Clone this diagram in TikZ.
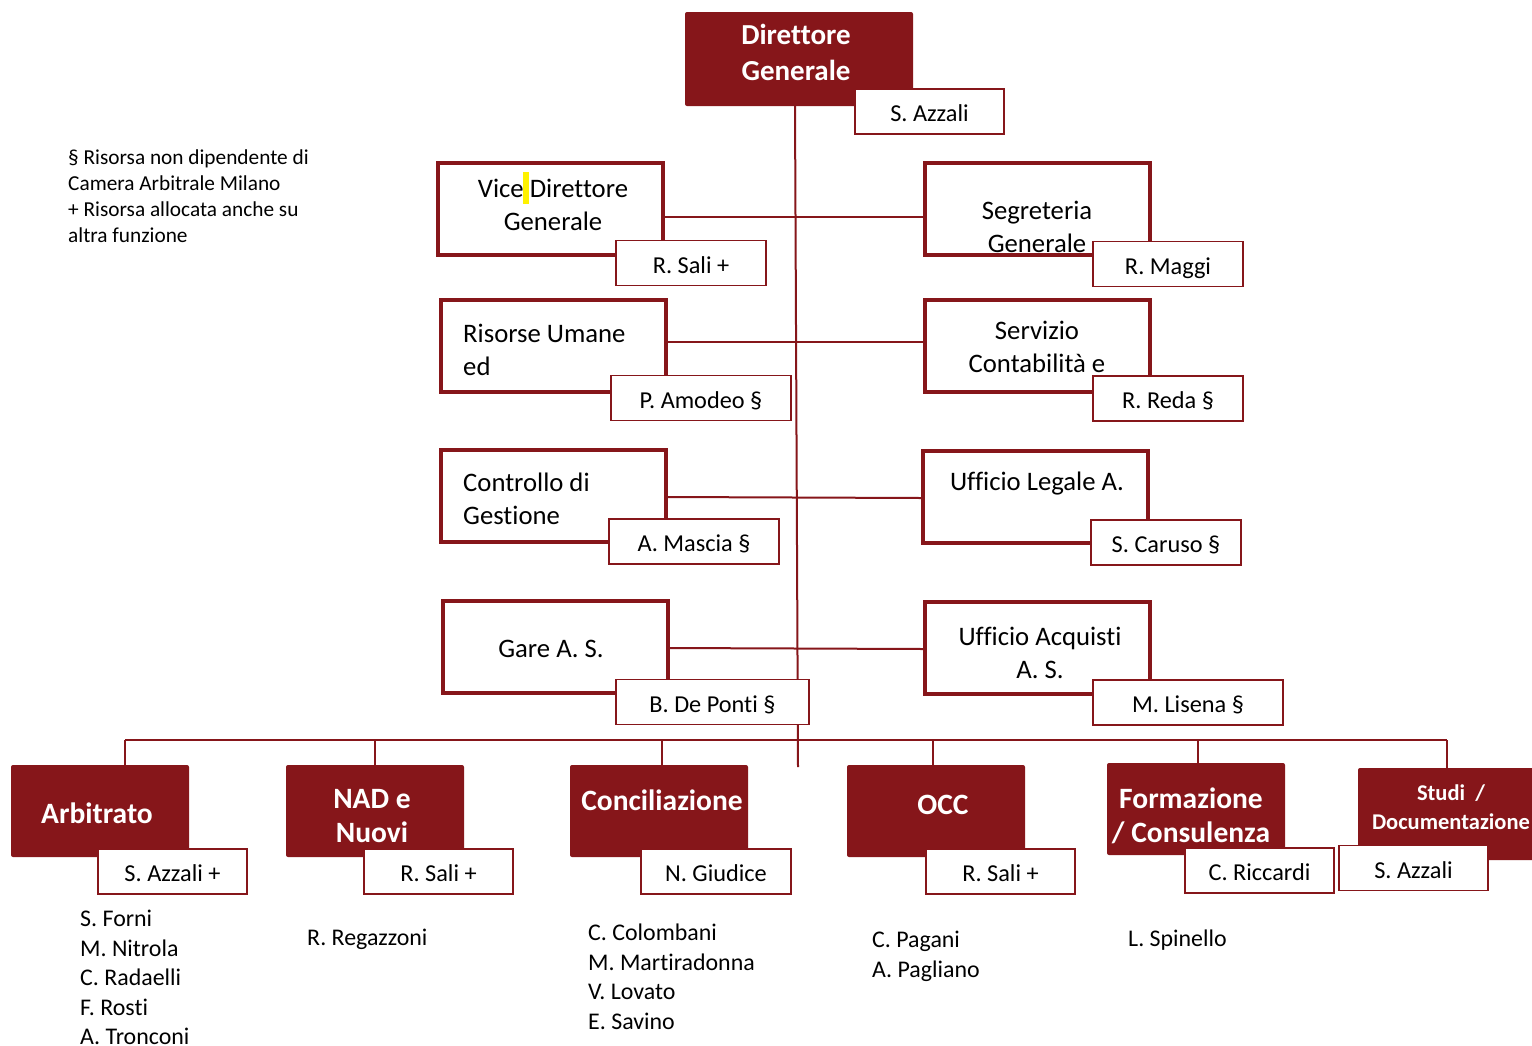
\documentclass[tikz,border=0pt]{standalone}
\usepackage{fontspec}
\setmainfont[Ligatures=NoCommon]{Carlito}
\usepackage{tikz}
\usetikzlibrary{positioning}
\definecolor{camred}{RGB}{134,22,26}
\tikzset{
	unitbox/.style={shape=rectangle,draw=camred,line width=4pt,fill=white,minimum width=225pt,minimum height=92pt,inner sep=0pt},
	areabox/.style={shape=rectangle,fill=camred,rounded corners=2pt,minimum width=178pt,minimum height=92pt,inner sep=0pt},
	namebox/.style={shape=rectangle,draw=camred,line width=1.3pt,fill=white,minimum height=45pt,inner sep=0pt,text height=22pt,text depth=2pt,font=\fontsize{24.3}{28}\selectfont},
	unittext/.style={font=\fontsize{26.7}{33}\selectfont,align=center,inner sep=0pt},
	areatext/.style={font=\bfseries\fontsize{29.5}{34}\selectfont,text=white,align=center,inner sep=0pt},
	staff/.style={font=\fontsize{23.9}{29.5}\selectfont,align=left,anchor=north west,inner sep=0pt},
	link/.style={draw=camred,line width=2pt}
}

\begin{document}
\begin{tikzpicture}[x=1pt,y=-1pt]
	\useasboundingbox (0,0) rectangle (1532,1045);
	% boxes
	\node(dg) [areabox,minimum width=228pt,minimum height=94pt] at (799,59) {};
	\node(vdg) [unitbox] at (550.5,209) {};
	\node(ru) [unitbox] at (553.5,346) {};
	\node(cg) [unitbox] at (553.5,496) {};
	\node(gare) [unitbox] at (555.5,647) {};
	\node(sg) [unitbox] at (1037.5,209) {};
	\node(sc) [unitbox] at (1037.5,346) {};
	\node(ul) [unitbox] at (1035.5,497) {};
	\node(ua) [unitbox] at (1037.5,648) {};
	\node(arb) [areabox] at (100,811) {};
	\node(nad) [areabox] at (375,811) {};
	\node(conc) [areabox] at (659,811) {};
	\node(occ) [areabox] at (936,811) {};
	\node(form) [areabox] at (1196,809) {};
	\node(studi) [areabox] at (1447,814) {};
	% connectors
	\coordinate(trunkend) at (798,767);
	\coordinate(busl) at (125,740);
	\coordinate(busr) at (1447,740);
	\draw[link] ([xshift=-4pt]dg.south) -- (trunkend);
	\foreach \a/\b/\s in {vdg/sg/-8,ru/sc/4,cg/ul/-1,gare/ua/-1}
		\draw[link] ([yshift=\s pt]\a.east) -- ([yshift=\s pt]\b.west);
	\draw[link] (busl) -- (busr);
	\foreach \n/\x in {arb/125,nad/375,conc/662,occ/933,form/1198,studi/1447}
		\draw[link] (\n.north -| \x,0) -- (\x,740);
	% names
	\node(dg-n) [namebox,minimum width=149pt] at (929.5,111.5) {S. Azzali};
	\node(vdg-n) [namebox,minimum width=150pt] at (691,263) {R. Sali +};
	\node(ru-n) [namebox,minimum width=180pt] at (701,398) {P. Amodeo §};
	\node(cg-n) [namebox,minimum width=170pt] at (694,541.5) {A. Mascia §};
	\node(gare-n) [namebox,minimum width=193pt] at (712.5,702) {B. De Ponti §};
	\node(sg-n) [namebox,minimum width=150pt] at (1168,264) {R. Maggi};
	\node(sc-n) [namebox,minimum width=150pt] at (1168,398.5) {R. Reda §};
	\node(ul-n) [namebox,minimum width=150pt] at (1166,542.5) {S. Caruso §};
	\node(ua-n) [namebox,minimum width=190pt] at (1188,702.5) {M. Lisena §};
	\node(arb-n) [namebox,minimum width=149pt] at (172.5,871.5) {S. Azzali +};
	\node(nad-n) [namebox,minimum width=149pt] at (438.5,871.5) {R. Sali +};
	\node(conc-n) [namebox,minimum width=150pt] at (716,871.5) {N. Giudice};
	\node(occ-n) [namebox,minimum width=149pt] at (1000.5,871.5) {R. Sali +};
	\node(form-n) [namebox,minimum width=149pt] at (1259.5,870.5) {C. Riccardi};
	\node(studi-n) [namebox,minimum width=149pt] at (1413.5,868) {S. Azzali};
	% texts
	\fill[yellow] (523,172) rectangle (529,204);
	\node(dg-t) [areatext,font=\bfseries\fontsize{29}{36}\selectfont] at (796,52) {Direttore\\Generale};
	\node(vdg-t) [unittext] at (553,205) {Vice Direttore\\Generale};
	\node(ru-t) [unittext,align=left,anchor=west] at (463,350) {Risorse Umane\\ed};
	\node(cg-t) [unittext,align=left,anchor=west] at (463,499) {Controllo di\\Gestione};
	\node(gare-t) [unittext] at (551,649) {Gare A. S.};
	\node(sg-t) [unittext] at (1037,227) {Segreteria\\Generale};
	\node(sc-t) [unittext] at (1037,347) {Servizio\\Contabilità e};
	\node(ul-t) [unittext] at (1037,484) {Ufficio Legale A.};
	\node(ua-t) [unittext] at (1040,653) {Ufficio Acquisti\\A. S.};
	\node(arb-t) [areatext] at (97,813) {Arbitrato};
	\node(nad-t) [areatext] at (372,816) {NAD e\\Nuovi};
	\node(conc-t) [areatext] at (662,800) {Conciliazione};
	\node(occ-t) [areatext] at (943,805) {OCC};
	\node(form-t) [areatext] at (1191,816) {Formazione\\/ Consulenza};
	\node(studi-t) [areatext,font=\bfseries\fontsize{22.5}{29}\selectfont] at (1451,807) {Studi~~/\\Documentazione};
	% staff lists
	\node(arb-s) [staff] at (80,910) {S. Forni\\M. Nitrola\\C. Radaelli\\F. Rosti\\A. Tronconi};
	\node(nad-s) [staff] at (307,929) {R. Regazzoni};
	\node(conc-s) [staff] at (588,924) {C. Colombani\\M. Martiradonna\\V. Lovato\\E. Savino};
	\node(occ-s) [staff] at (872,931) {C. Pagani\\A. Pagliano};
	\node(form-s) [staff] at (1128,930) {L. Spinello};
	% legend
	\node(legend) [staff,font=\fontsize{21.3}{26}\selectfont] at (68,150) {§ Risorsa non dipendente di\\Camera Arbitrale Milano\\+ Risorsa allocata anche su\\altra funzione};
\end{tikzpicture}
\end{document}
